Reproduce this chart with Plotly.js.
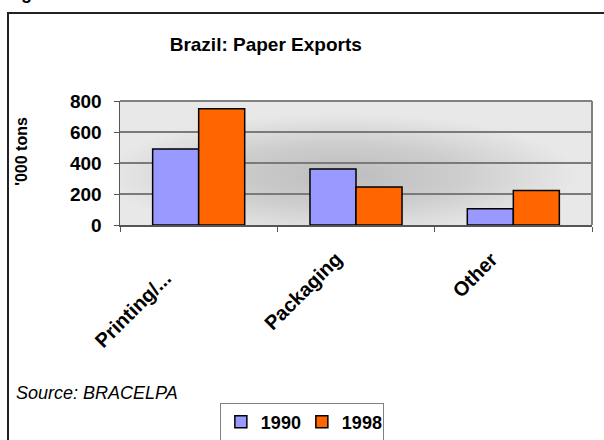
<!DOCTYPE html>
<html>
<head>
<meta charset="utf-8">
<script src="https://cdn.plot.ly/plotly-3.0.1.min.js"></script>
<style>
html,body{margin:0;padding:0;background:#fff;}
#wrap{position:relative;width:604px;height:440px;overflow:hidden;}
#frame{position:absolute;left:7px;top:12px;width:700px;height:600px;border:2px solid #222;pointer-events:none;box-sizing:border-box;}
</style>
</head>
<body>
<div id="wrap">
<div id="chart" style="width:604px;height:440px;"></div>
<div id="frame"></div>
</div>
<script>
const categories = ["Printing/...", "Packaging", "Other"];
const series1990 = [490, 362, 105];
const series1998 = [750, 245, 222];
const seriesNames = ["1990", "1998"];
const yTicks = [0, 200, 400, 600, 800];

// label placement offsets (px) for the rotated category labels
const labelDX = [-20, -7, -9];
const labelDY = [-39, -20, -20];

const FONT = "Liberation Sans, Arial, sans-serif";

const bgSvg = '<svg xmlns="http://www.w3.org/2000/svg" width="472" height="124" viewBox="0 0 472 124">' +
  '<defs><radialGradient id="g" cx="0.47" cy="0.6" r="0.5">' +
  '<stop offset="0" stop-color="#bdbdbd"/><stop offset="0.5" stop-color="#cdcdcd"/><stop offset="1" stop-color="#e8e8e8"/></radialGradient></defs>' +
  '<rect width="472" height="124" fill="url(#g)"/></svg>';
const bgUri = "data:image/svg+xml;base64," + btoa(bgSvg);

const traces = [
  {type: "bar", name: seriesNames[0], x: categories, y: series1990,
   marker: {color: "#9999FF", line: {color: "#000", width: 1.5}}},
  {type: "bar", name: seriesNames[1], x: categories, y: series1998,
   marker: {color: "#FF6600", line: {color: "#000", width: 1.5}}}
];

const catAnnotations = categories.map((c, i) => ({
  text: "<b>" + c + "</b>", xref: "x", yref: "paper", x: c, y: 0,
  xshift: labelDX[i], yshift: labelDY[i], xanchor: "right", yanchor: "top",
  textangle: -45, showarrow: false, font: {size: 20, family: FONT, color: "#000"}
}));

const layout = {
  width: 604, height: 440,
  margin: {l: 120, r: 12, t: 101, b: 215},
  paper_bgcolor: "#fff",
  plot_bgcolor: "rgba(0,0,0,0)",
  font: {family: FONT, color: "#000"},
  title: {text: "<b>Brazil: Paper Exports</b>", font: {size: 19, family: FONT, color: "#000"},
          xref: "container", x: 0.44, xanchor: "center", yref: "container", y: 0.9, yanchor: "middle"},
  barmode: "group",
  bargap: 0.415,
  bargroupgap: 0,
  showlegend: true,
  legend: {orientation: "h", xref: "container", yref: "container", x: 0.364, y: 0.085,
           xanchor: "left", yanchor: "top", bgcolor: "#fff", bordercolor: "#808080", borderwidth: 1,
           font: {size: 18, family: FONT, color: "#000", weight: "bold"}, entrywidth: 36, traceorder: "normal"},
  xaxis: {type: "category", range: [-0.5, categories.length - 0.5], autorange: false,
          tickson: "boundaries", ticks: "outside", ticklen: 5, tickcolor: "#555",
          showline: true, linecolor: "#555", linewidth: 1.5, showgrid: false, mirror: false,
          showticklabels: false, fixedrange: true},
  yaxis: {range: [0, 800], autorange: false, tickvals: yTicks, ticks: "outside", ticklen: 5, tickcolor: "#555",
          showline: true, linecolor: "#555", linewidth: 1.5, showgrid: true, gridcolor: "#7a7a7a", gridwidth: 1.5,
          zeroline: false, ticklabelstandoff: 8,
          tickfont: {size: 19, family: FONT, color: "#000", weight: "bold"}, fixedrange: true},
  images: [{source: bgUri, xref: "paper", yref: "paper", x: 0, y: 1, sizex: 1, sizey: 1,
            sizing: "stretch", layer: "below", xanchor: "left", yanchor: "top"}],
  shapes: [
    {type: "line", xref: "paper", yref: "paper", x0: 0, x1: 1, y0: 1, y1: 1, line: {color: "#808080", width: 2}},
    {type: "line", xref: "paper", yref: "paper", x0: 1, x1: 1, y0: 0, y1: 1, line: {color: "#808080", width: 2}}
  ],
  annotations: [
    {text: "<b>'000 tons</b>", xref: "paper", yref: "paper", x: 0, y: 0.59, xshift: -98,
     textangle: -90, showarrow: false, font: {size: 16, family: FONT, color: "#000"}, xanchor: "center", yanchor: "middle"},
    {text: "<i>Source: BRACELPA</i>", xref: "paper", yref: "paper", x: -0.2246, y: -1.355,
     xanchor: "left", yanchor: "middle", showarrow: false, font: {size: 18, family: FONT, color: "#000"}},
    {text: "<b>g</b>", xref: "paper", yref: "paper", x: -0.199, y: 1.774,
     xanchor: "center", yanchor: "bottom", showarrow: false, font: {size: 18, family: FONT, color: "#000"}}
  ].concat(catAnnotations)
};

Plotly.newPlot("chart", traces, layout, {staticPlot: true, displayModeBar: false});
</script>
</body>
</html>
